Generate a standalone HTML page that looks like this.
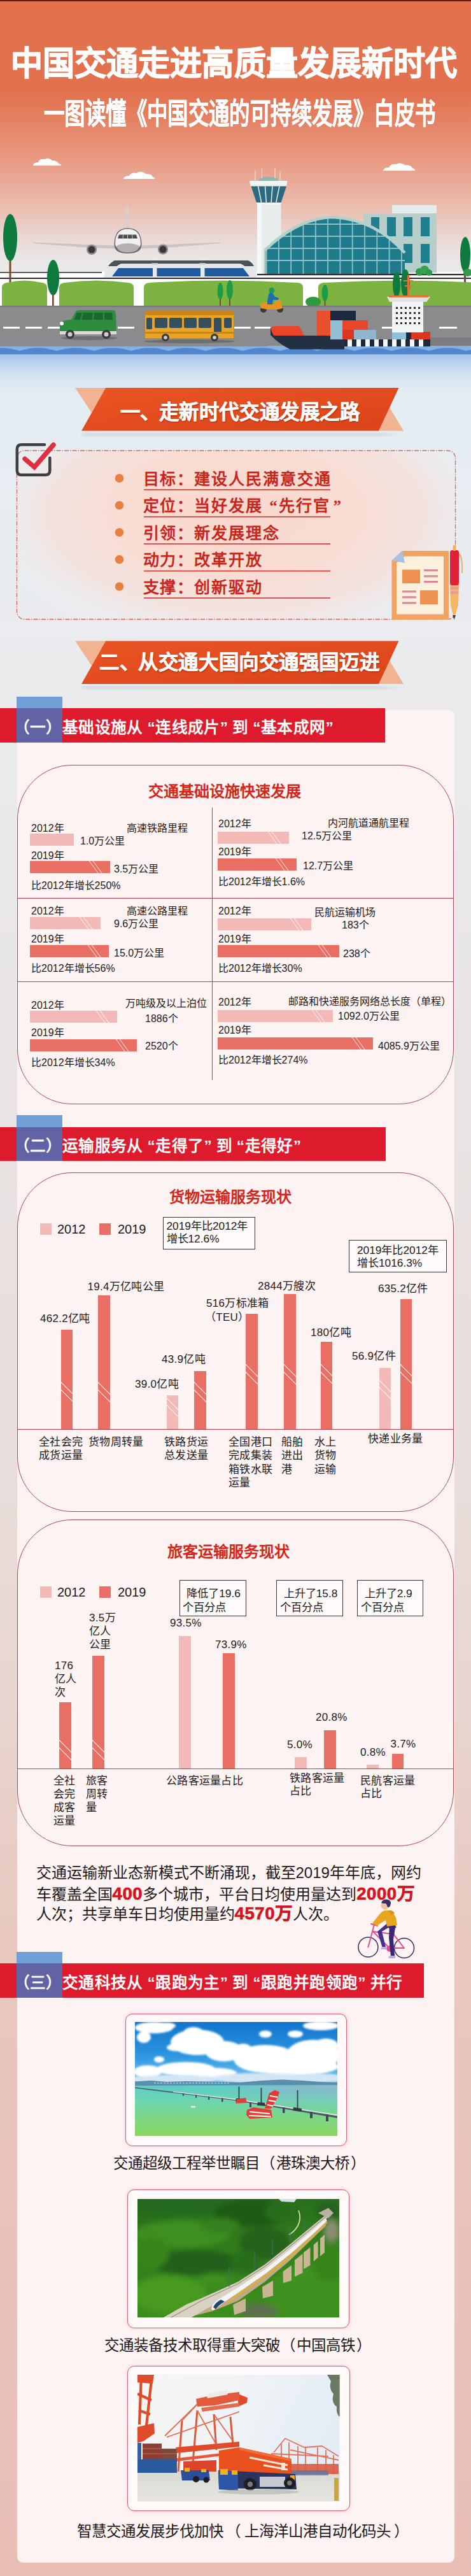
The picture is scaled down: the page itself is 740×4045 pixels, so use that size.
<!DOCTYPE html>
<html lang="zh-CN">
<head>
<meta charset="utf-8">
<title>中国交通走进高质量发展新时代</title>
<style>
html,body{margin:0;padding:0}
body{width:740px;height:4045px;position:relative;overflow:hidden;font-family:"Liberation Sans",sans-serif;color:#231f20;
background:linear-gradient(to bottom,#e6edf2 0px,#e6edf2 700px,#ebebed 1100px,#e9e3e3 1750px,#e8dedc 2300px,#e8d5cf 2680px,#e8c8c0 3050px,#e8beb5 4045px)}
.a{position:absolute;white-space:nowrap}
svg{position:absolute;left:0;top:0;display:block}
.t{position:absolute;white-space:nowrap;line-height:1}
.bt{color:#fff;font-weight:bold;-webkit-text-stroke:0.5px #fff;text-shadow:1px 2px 2px rgba(120,30,10,.45)}
.s1{left:224.5px;margin-top:1px;font-size:25px;font-weight:bold;color:#c8261c;letter-spacing:1.95px;font-family:"Liberation Serif",serif}
.card{background:#fdf3f3;border-radius:9px}
.st{color:#fff;font-weight:bold;font-size:24.6px;letter-spacing:0.4px}
.ql{margin-left:.27em}
.qr{margin-right:.27em}
.rb{border:1.2px solid #b24458;border-radius:86px;box-sizing:border-box}
.bxt{color:#d3271c;font-weight:bold;font-size:24px}
.c{font-size:16px;color:#1f1a1b}
.b12{background:#f3b9b6;overflow:hidden}
.b19{background:#e96f65;overflow:hidden}
.b12 i,.b19 i{position:absolute;top:-4px;width:1.3px;height:28px;background:#fff;transform:skewX(36deg);opacity:.9}
.lg{font-size:20px;color:#1f1a1b}
.nt{background:rgba(255,255,255,.55);border:1px solid #3a3435;box-sizing:border-box;font-size:17.3px;white-space:nowrap;color:#1f1a1b}
.d{font-size:17px;letter-spacing:.3px;color:#1f1a1b}
.vb{overflow:hidden}
.vb i{position:absolute;left:-6px;width:32px;height:1.3px;background:#fff;transform:rotate(45deg);opacity:.9}
.pg{font-size:24px;color:#1f1a1b}
.pg b{color:#d3151f;font-weight:bold;font-size:27.5px;line-height:24px;-webkit-text-stroke:0.7px #d3151f;letter-spacing:0.6px}
.fr{box-sizing:border-box;border:1.5px solid #cf5f7c;border-radius:11px;background:#fff9f9;box-shadow:0 0 5px rgba(235,150,170,.55)}
.cap{font-size:23.5px;color:#1f1a1b}
.pl{margin-left:1px;margin-right:2px}
.pr{margin-left:2px}

</style>
</head>
<body>
<svg width="740" height="620" viewBox="0 0 740 620">
<defs>
<linearGradient id="sky" x1="0" y1="0" x2="0" y2="1">
<stop offset="0" stop-color="#e2714e"/>
<stop offset="0.33" stop-color="#e2714e"/>
<stop offset="0.55" stop-color="#e8967e"/>
<stop offset="0.72" stop-color="#eab9aa"/>
<stop offset="0.85" stop-color="#e9d8d4"/>
<stop offset="0.92" stop-color="#e9e6e6"/>
<stop offset="1" stop-color="#ecebeb"/>
</linearGradient>
<linearGradient id="water" x1="0" y1="0" x2="0" y2="1">
<stop offset="0" stop-color="#a2c3ec"/>
<stop offset="0.3" stop-color="#c1d7f0"/>
<stop offset="0.65" stop-color="#dbe7f3"/>
<stop offset="1" stop-color="#e6edf2"/>
</linearGradient>
<clipPath id="domeclip"><path d="M416 432 L416 392 Q470 340 524 340 Q590 344 636 396 L636 432 Z"/></clipPath>
</defs>
<rect x="0" y="0" width="740" height="440" fill="url(#sky)"/>
<rect x="0" y="0" width="740" height="2" fill="#5a1d18"/>
<!-- clouds -->
<g fill="#fff">
<path d="M52 260 Q52 255 60 255 Q62 249 70 250 Q76 246 82 252 Q90 252 92 257 Q97 258 96 260 Z"/>
<path d="M194 281 Q195 276 203 276 Q206 270 214 272 Q222 267 229 273 Q238 273 240 278 Q244 279 243 281 Z"/>
<path d="M602 268 Q603 263 611 263 Q614 257 622 258 Q629 254 636 259 Q646 259 648 264 Q653 265 652 268 Z"/>
</g>
<!-- white ground band behind -->
<rect x="0" y="427" width="740" height="60" fill="#fdfdfd"/>
<!-- right office block -->
<rect x="616" y="322" width="70" height="14" fill="#e3ecea"/>
<rect x="571" y="335" width="115" height="93" fill="#b7cfca"/>
<g fill="#1f7f8f">
<rect x="583" y="341" width="13" height="30"/><rect x="608" y="341" width="14" height="30"/><rect x="634" y="341" width="14" height="30"/><rect x="661" y="341" width="14" height="30"/>
<rect x="634" y="383" width="14" height="30"/><rect x="661" y="383" width="14" height="30"/>
</g>
<!-- control tower -->
<rect x="404" y="318" width="37.500" height="112" fill="#e7eded"/>
<rect x="404" y="318" width="7" height="112" fill="#f5f8f8"/>
<path d="M392 284 L451.5 284 L450 292.5 L393.500 292.5 Z" fill="#eef3f3"/>
<path d="M394.5 292.5 L450 292.5 L441.500 318 L403 318 Z" fill="#2b6a80"/>
<g stroke="#dfeaea" stroke-width="1.6"><path d="M405.5 292.5 L410.700 318"/><path d="M416.500 292.5 L418.400 318"/><path d="M428 292.5 L426.100 318"/><path d="M439 292.5 L433.800 318"/></g>
<path d="M403 318 L441.5 318 L441.500 321 L403 321 Z" fill="#f2f6f6"/>
<path d="M406 284 Q407 278 422 277.500 Q437 278 438 284 Z" fill="#8fb5ac"/>
<g stroke="#e9efee" stroke-width="1"><path d="M401 268 L401 283"/><path d="M411.500 264 L411.500 280"/><path d="M432 264 L432 280"/><path d="M440 270 L440 283"/></g>
<!-- terminal dome -->
<g clip-path="url(#domeclip)">
<rect x="410" y="335" width="232" height="100" fill="#1f7b8c"/>
<g stroke="#8fc2c4" stroke-width="1.8" fill="none">
<path d="M410 352 H642 M410 371 H642 M410 390 H642 M410 409 H642"/>
<path d="M418.6 335 V435 M437.9 335 V435 M457.2 335 V435 M476.5 335 V435 M495.8 335 V435 M515.1 335 V435 M534.4 335 V435 M553.7 335 V435 M573.0 335 V435 M592.3 335 V435 M611.6 335 V435 M630.9 335 V435"/>
</g>
</g>
<path d="M416 393 Q470 341 524 341 Q590 345 636 397" fill="none" stroke="#b4d0ca" stroke-width="4.5"/>
<rect x="414.5" y="392" width="3" height="38" fill="#b4d0ca"/>
<!-- plane -->
<path d="M52 380.500 L186 386 L186 390.500 L140 389 L52 382 Z" fill="#cbc2c3"/>
<path d="M346 380.500 L214 386 L214 390.500 L260 389 L346 382 Z" fill="#cbc2c3"/>
<path d="M199 322 L201.200 322 L202 362 L198.200 362 Z" fill="#d6cfcf"/>
<circle cx="144" cy="392" r="8" fill="#8d878b"/><circle cx="144" cy="392" r="5.500" fill="#3a383d"/>
<circle cx="256" cy="391.500" r="8" fill="#8d878b"/><circle cx="256" cy="391.500" r="5.500" fill="#3a383d"/>
<path d="M179.500 384 Q179.500 358 200.500 358 Q222.500 358 222.500 384 Q222.500 398 200.500 398 Q179.500 398 179.500 384 Z" fill="#6f696d"/>
<path d="M181 383 Q181 359.500 200.500 359.500 Q221 359.500 221 383 Q221 392 200.500 392 Q181 392 181 383 Z" fill="#f1efef"/>
<path d="M183 386 Q200 378 219 386 Q217 396.500 200.500 396.500 Q185 396.500 183 386 Z" fill="#b4b0b3"/>
<path d="M187 368.500 L214 368.500 L216 374.500 L185 374.500 Z" fill="#4c4a51"/>
<path d="M193.500 368.500 L193 374.500 M200.500 368.500 L200.500 374.500 M207.500 368.500 L208 374.500" stroke="#efeded" stroke-width="0.800"/>
<!-- catenary posts -->
<rect x="240" y="406" width="6.500" height="31" fill="#eceef1"/><rect x="315" y="406" width="6.500" height="31" fill="#eceef1"/>
<!-- train -->
<path d="M163 436 Q165 420 178 409 L392 409 Q402 420 404 436 Z" fill="#e3e6ea"/>
<path d="M170 418 Q174 412 180 409 L390 409 Q396 412 399 418 L385 418 L378 414 L190 414 L183 418 Z" fill="#4d5158"/>
<path d="M176 434 L186 421 L382 421 L392 434 Z" fill="#1f5a9e"/>
<rect x="240" y="414" width="6.500" height="23" fill="#e6e8ec"/><rect x="315" y="414" width="6.500" height="23" fill="#e6e8ec"/><rect x="238.500" y="413" width="9.500" height="2.500" fill="#c9ccd2"/><rect x="313.500" y="413" width="9.500" height="2.500" fill="#c9ccd2"/>
<!-- deck lines -->
<rect x="0" y="436" width="740" height="2.2" fill="#2b2b2b"/>
<rect x="0" y="427" width="160" height="1.6" fill="#3a3a3a"/>
<rect x="404" y="430" width="336" height="2.2" fill="#2b2b2b"/>
<rect x="0" y="438" width="740" height="5" fill="#fff"/>
<!-- big left tree -->
<rect x="14.5" y="400" width="3" height="45" fill="#7a4a2a"/>
<ellipse cx="16" cy="373" rx="11" ry="37" fill="#0f7a3d"/>
<!-- right tree -->
<rect x="729" y="410" width="3" height="35" fill="#7a4a2a"/>
<ellipse cx="731" cy="400" rx="8" ry="28" fill="#0f7a3d"/>
<!-- hills -->
<g fill="#7db441">
<path d="M3 481 L3 451 Q3 445 11 444 Q38.5 437 66 444 Q74 445 74 451 L74 481 Z"/>
<path d="M93 481 L93 451 Q93 445 101 444 Q151.5 437 202 444 Q210 445 210 451 L210 481 Z"/>
<path d="M226 481 L226 451 Q226 445 234 444 Q351.0 437 468 444 Q476 445 476 451 L476 481 Z"/>
<path d="M500 481 L500 451 Q500 445 508 444 Q630.0 437 752 444 Q760 445 760 451 L760 481 Z"/>
</g>
<!-- small trees -->
<rect x="82" y="440" width="2.6" height="44" fill="#7a4a2a"/><ellipse cx="83.5" cy="436" rx="9.5" ry="28" fill="#0f7a3d"/>
<rect x="345" y="460" width="2" height="20" fill="#7a4a2a"/><ellipse cx="346" cy="457" rx="4.5" ry="13" fill="#1f9a45"/>
<rect x="360" y="458" width="2" height="22" fill="#7a4a2a"/><ellipse cx="361" cy="455" rx="5" ry="15" fill="#1f9a45"/>
<rect x="509.500" y="462" width="2" height="18" fill="#7a4a2a"/><ellipse cx="510.500" cy="460" rx="5" ry="13" fill="#1f9a45"/>
<ellipse cx="623" cy="447" rx="6" ry="20" fill="#0f7a3d"/><ellipse cx="637" cy="445" rx="7" ry="22" fill="#0f7a3d"/>
<ellipse cx="492" cy="474" rx="12" ry="8" fill="#2f9a3f"/><ellipse cx="659" cy="427" rx="6" ry="6" fill="#2f9a4a"/><ellipse cx="667" cy="424" rx="7" ry="7" fill="#37a34f"/><ellipse cx="674" cy="428" rx="5" ry="5" fill="#2f9a4a"/><ellipse cx="735" cy="428" rx="7" ry="6" fill="#2f9a4a"/>
<!-- road -->
<rect x="0" y="480" width="740" height="64" fill="#8b8b8d"/>
<rect x="0" y="480" width="740" height="2" fill="#77777a"/>
<g fill="#fff"><rect x="5" y="513" width="26" height="3"/><rect x="40" y="513" width="26" height="3"/><rect x="75" y="513" width="20" height="3"/><rect x="185" y="513" width="26" height="3"/><rect x="368" y="513" width="26" height="3"/><rect x="400" y="513" width="26" height="3"/><rect x="600" y="513" width="16" height="3"/><rect x="690" y="513" width="28" height="3"/></g>
<!-- green van -->
<ellipse cx="140" cy="531" rx="44" ry="3" fill="#6e6e70"/>
<path d="M94 524 L94 508 Q96 503 112 502 L119 489 Q121 487 126 487 L176 487 Q182 487 182 493 L183 524 Z" fill="#2d8d3d"/>
<path d="M116 502 L121 491 L176 491 L177 502 Z" fill="#1c6631"/>
<path d="M130 491 L127 502 M147 491 L146 502 M163 491 L163 502" stroke="#2d8d3d" stroke-width="2"/>
<rect x="94" y="520" width="89" height="5" fill="#d9dcd9"/>
<circle cx="110" cy="525" r="7" fill="#3b3b3d"/><circle cx="110" cy="525" r="3.5" fill="#cfcfcf"/>
<circle cx="167" cy="525" r="7" fill="#3b3b3d"/><circle cx="167" cy="525" r="3.500" fill="#cfcfcf"/>
<circle cx="97" cy="508" r="3" fill="#fff"/>
<!-- bus -->
<ellipse cx="298" cy="536" rx="72" ry="3" fill="#6e6e70"/>
<path d="M228 531 L228 494 Q228 488 236 488 L360 488 Q367 488 367 495 L367 531 Z" fill="#e9a426"/>
<rect x="228" y="488" width="139" height="7" rx="3" fill="#c98516"/>
<g fill="#35505c"><rect x="230" y="499" width="9" height="18" rx="2"/><rect x="243" y="499" width="20" height="16" rx="2"/><rect x="266" y="499" width="20" height="16" rx="2"/><rect x="289" y="499" width="20" height="16" rx="2"/><rect x="312" y="499" width="20" height="16" rx="2"/><rect x="336" y="499" width="12" height="24" rx="2"/><rect x="352" y="499" width="12" height="16" rx="2"/></g>
<rect x="228" y="521" width="139" height="3" fill="#c98516"/>
<circle cx="260" cy="530" r="6" fill="#3b3b3d"/><circle cx="260" cy="530" r="2.8" fill="#cfcfcf"/>
<circle cx="337" cy="530" r="6" fill="#3b3b3d"/><circle cx="337" cy="530" r="2.800" fill="#cfcfcf"/>
<!-- scooter -->
<circle cx="414" cy="486" r="5" fill="#3b3b3d"/><circle cx="440" cy="486" r="5" fill="#3b3b3d"/>
<path d="M409 480 Q410 474 420 475 L430 478 L436 470 L440 470 L444 484 L436 486 L420 486 L410 484 Z" fill="#e8921f"/>
<path d="M420 474 L422 462 Q424 458 428 460 L432 466 L438 468 L437 471 L429 471 L428 478 L420 478 Z" fill="#1f6fae"/>
<circle cx="427" cy="456" r="4.5" fill="#1f9a55"/>
<!-- pier right -->
<rect x="676" y="530" width="64" height="14" fill="#7d7d80"/>
<path d="M655 544 L655 505 L676 530 L676 544 Z" fill="#9a9a9d"/>
<!-- water -->
<rect x="0" y="555" width="740" height="65" fill="url(#water)"/>
<rect x="0" y="543" width="740" height="14" fill="#86b0e4"/>
<path d="M-28 551 Q1.25 541.5 30.50 551 Q59.75 541.5 89.00 551 Q118.25 541.5 147.50 551 Q176.75 541.5 206.00 551 Q235.25 541.5 264.50 551 Q293.75 541.5 323.00 551 Q352.25 541.5 381.50 551 Q410.75 541.5 440.00 551 Q469.25 541.5 498.50 551 Q527.75 541.5 557.00 551 Q586.25 541.5 615.50 551 Q644.75 541.5 674.00 551 Q703.25 541.5 732.50 551 Q761.75 541.5 791.00 551 L770 556 L-28 556 Z" fill="#4f86cc"/>
<rect x="0" y="540" width="420" height="4" fill="#8b8b8d"/>
<!-- ship -->
<path d="M425 514 L470 514 L476 527 L541 527 L541 548.500 L456 548.500 Q438 540 425 526 Z" fill="#232f42"/>
<path d="M425 514 L433 512 L470 512 L478 527 L430 527 Q426 520 425 514 Z" fill="#e8452a"/>
<rect x="498" y="488" width="21" height="39" fill="#e8502e"/>
<rect x="519" y="488" width="40" height="15" fill="#1d2a3e"/>
<rect x="519" y="503" width="19" height="30" fill="#8fc0d8"/>
<rect x="538" y="503" width="40" height="15" fill="#e8452a"/>
<rect x="538" y="518" width="18" height="15" fill="#d9381f"/>
<rect x="556" y="518" width="35" height="15" fill="#8fb6cc"/>
<rect x="541" y="533" width="135" height="11" fill="#1d2a3e"/>
<g fill="#f4f6f7"><rect x="546" y="533" width="7" height="11"/><rect x="560" y="533" width="7" height="11"/><rect x="574" y="533" width="7" height="11"/><rect x="588" y="533" width="7" height="11"/><rect x="602" y="533" width="7" height="11"/><rect x="616" y="533" width="7" height="11"/><rect x="630" y="533" width="7" height="11"/><rect x="644" y="533" width="7" height="11"/><rect x="658" y="533" width="7" height="11"/></g>
<rect x="616" y="521" width="22" height="12" fill="#8fc0d8"/><rect x="638" y="521" width="8" height="12" fill="#1d2a3e"/><rect x="646" y="521" width="30" height="12" fill="#d9381f"/>
<rect x="616" y="474" width="49" height="48" fill="#f3f4f4"/>
<path d="M608 466 L676 466 L670 474 L612 474 Z" fill="#dfe3e3"/>
<rect x="611" y="464" width="62" height="3" fill="#e8713a"/>
<rect x="640" y="432" width="3" height="34" fill="#e8713a"/><rect x="634" y="440" width="15" height="2" fill="#e8713a"/><rect x="636" y="448" width="11" height="2" fill="#e8713a"/>
<g fill="#2b2b2b"><rect x="622" y="482" width="3" height="3"/><rect x="629" y="482" width="3" height="3"/><rect x="636" y="482" width="3" height="3"/><rect x="643" y="482" width="3" height="3"/><rect x="650" y="482" width="3" height="3"/><rect x="657" y="482" width="3" height="3"/>
<rect x="622" y="490" width="3" height="3"/><rect x="629" y="490" width="3" height="3"/><rect x="636" y="490" width="3" height="3"/><rect x="643" y="490" width="3" height="3"/><rect x="650" y="490" width="3" height="3"/><rect x="657" y="490" width="3" height="3"/>
<rect x="622" y="498" width="3" height="3"/><rect x="629" y="498" width="3" height="3"/><rect x="636" y="498" width="3" height="3"/><rect x="643" y="498" width="3" height="3"/><rect x="650" y="498" width="3" height="3"/><rect x="657" y="498" width="3" height="3"/>
<rect x="622" y="506" width="3" height="3"/><rect x="629" y="506" width="3" height="3"/><rect x="636" y="506" width="3" height="3"/><rect x="643" y="506" width="3" height="3"/><rect x="650" y="506" width="3" height="3"/><rect x="657" y="506" width="3" height="3"/></g>
</svg>
<div class="t" id="h1" style="left:17px;top:74px;font-size:52px;font-weight:bold;color:#fff;transform-origin:0 0;transform:scaleX(0.963);-webkit-text-stroke:1.2px #fff">中国交通走进高质量发展新时代</div>
<div class="t" id="h2" style="left:68.5px;top:155px;font-size:46px;font-weight:bold;color:#fff;transform-origin:0 0;transform:scaleX(0.704);-webkit-text-stroke:0.5px #fff">一图读懂《中国交通的可持续发展》白皮书</div>

<svg width="740" height="1100" viewBox="0 0 740 1100" style="top:0">
<defs>
<linearGradient id="bn" x1="0" y1="0" x2="1" y2="1">
<stop offset="0" stop-color="#ea5523"/><stop offset="1" stop-color="#db431b"/>
</linearGradient>
<radialGradient id="box1" gradientUnits="userSpaceOnUse" cx="0" cy="0" r="1" gradientTransform="translate(371 805) scale(410 215)">
<stop offset="0" stop-color="#fad8ce"/><stop offset="0.45" stop-color="#f9dcd3"/><stop offset="0.72" stop-color="#f5e1dc" stop-opacity="0.85"/><stop offset="1" stop-color="#eef0f3" stop-opacity="0"/>
</radialGradient>
<filter id="sh" x="-5%" y="-10%" width="110%" height="140%"><feGaussianBlur stdDeviation="3"/></filter>
</defs>
<!-- banner 1 -->
<path d="M132 680 L600 680 L630 684 L128 684 Z" fill="#9aa4ad" opacity="0.45" filter="url(#sh)"/>
<path d="M118 609 L166 609 L144 648 Z" fill="#f1b391"/>
<path d="M595 676.5 L611 638 L634 676.500 Z" fill="#f1b391"/>
<path d="M166 609 L626.5 609 L595 676.5 L128 676.5 Z" fill="url(#bn)"/>
<!-- box 1 -->
<rect x="26.5" y="707.5" width="689" height="265" rx="12" fill="url(#box1)"/>
<rect x="26.5" y="707.5" width="689" height="265" rx="12" fill="none" stroke="#dc6557" stroke-width="1.3" stroke-dasharray="7 2 1.5 2"/>
<!-- check icon -->
<path d="M70 698.2 L33.800 698.2 Q26.8 698.2 26.8 705.2 L26.8 738.7 Q26.8 745.7 33.8 745.7 L71.300 745.7 Q78.3 745.7 78.3 738.7 L78.3 719" fill="none" stroke="#3f3f41" stroke-width="4.5" stroke-linecap="round"/>
<path d="M39 720.5 L54 733.5 L84 698.5" fill="none" stroke="#e0303f" stroke-width="7.5" stroke-linejoin="miter" stroke-linecap="round"/>
<!-- bullets -->
<g fill="#e8813f"><circle cx="187.5" cy="751" r="6.8"/><circle cx="187.5" cy="793.5" r="6.8"/><circle cx="187.5" cy="836" r="6.8"/><circle cx="187.5" cy="878.5" r="6.8"/><circle cx="187.5" cy="921" r="6.8"/></g>
<!-- underlines -->
<g fill="#cf2a20"><rect x="226" y="768.3" width="293" height="1.5"/><rect x="226" y="810.8" width="293" height="1.5"/><rect x="226" y="853.3" width="293" height="1.5"/><rect x="226" y="895.8" width="293" height="1.5"/><rect x="226" y="938.3" width="293" height="1.5"/></g>
<!-- doc icon -->
<g>
<path d="M615.5 880 L632 865 L705 865 L705 973 L615.5 973 Z" fill="#f1a363"/>
<path d="M623 884 L636 873.5 L697 873.5 L697 964.500 L623 964.5 Z" fill="#faf0dc"/>
<path d="M615.5 880 L632 865 L636 884 Z" fill="#a9c2e3"/>
<rect x="632" y="894.5" width="28" height="21.5" fill="#ee9050"/>
<rect x="660" y="927" width="28" height="22" fill="#ee9050"/>
<g fill="#db8a9c"><rect x="666" y="894" width="22" height="3.2"/><rect x="666" y="903.2" width="22" height="3.2"/><rect x="666" y="912" width="22" height="3.2"/><rect x="632" y="927.300" width="22" height="3.2"/><rect x="632" y="936.2" width="22" height="3.2"/><rect x="632" y="945.2" width="22" height="3.2"/></g>
<path d="M721 868 Q728 872 727 900 L725 900 Q726 876 721 872 Z" fill="#f0b060"/>
<path d="M707 918 L721 918 L720 950 L713.500 972 L708 950 Z" fill="#f3b765"/>
<rect x="707.5" y="921.5" width="13" height="4" fill="#e79a9a"/><rect x="707.800" y="928.5" width="12.5" height="4" fill="#e79a9a"/>
<rect x="707" y="864" width="14" height="55" rx="3.5" fill="#e0203a"/>
<rect x="711.500" y="856" width="5" height="9" rx="2" fill="#f0b060"/>
<path d="M711 966 L716 966 L713.5 973 Z" fill="#3a3a3a"/>
</g>
</svg>
<div class="t bt" style="left:188.5px;top:631.5px;font-size:31.5px;letter-spacing:-0.42px">一<span style="margin-right:-2px">、</span>走新时代交通发展之路</div>
<div class="t s1" style="top:738.5px">目标：建设人民满意交通</div>
<div class="t s1" style="top:781px">定位：当好发展<span style="margin-left:.4em">“</span>先行官<span style="margin-left:.2em">”</span></div>
<div class="t s1" style="top:823.5px">引领：新发展理念</div>
<div class="t s1" style="top:866px">动力：改革开放</div>
<div class="t s1" style="top:908.5px">支撑：创新驱动</div>

<svg width="740" height="1800" viewBox="0 0 740 1800">
<!-- banner 2 -->
<g transform="translate(0,397.5)">
<path d="M132 680 L600 680 L630 684 L128 684 Z" fill="#9aa4ad" opacity="0.45" filter="url(#sh)"/>
<path d="M118 609 L166 609 L144 648 Z" fill="#f1b391"/>
<path d="M595 676.5 L611 638 L634 676.500 Z" fill="#f1b391"/>
<path d="M166 609 L626.5 609 L595 676.5 L128 676.5 Z" fill="url(#bn)"/>
</g>
</svg>
<div class="t bt" style="left:156px;top:1025px;font-size:31.5px;letter-spacing:-0.42px">二<span style="margin-right:-2px">、</span>从交通大国向交通强国迈进</div>
<div class="a card" style="left:27px;top:1114.5px;width:687px;height:2909px"></div>
<div class="a" style="left:25.5px;top:1093.8px;width:72.5px;height:72px;background:#71a0d6"></div><div class="a" style="left:0;top:1112.3px;width:604.7px;height:53.5px;background:#de1a2d"></div><div class="a" style="left:25.5px;top:1112.3px;width:72.5px;height:53.5px;background:#6263a4"></div><div class="t st" style="left:21.7px;top:1130.8px">（一）基础设施从<span class="ql">“</span>连线成片<span class="qr">”</span>到<span class="ql">“</span>基本成网<span class="qr">”</span></div>
<div class="a rb" style="left:26.8px;top:1201px;width:686px;height:533px"></div>
<div class="t bxt" style="left:233px;top:1230.5px">交通基础设施快速发展</div>
<div class="a" style="left:28px;top:1410px;width:685px;height:1.2px;background:#c23a48"></div>
<div class="a" style="left:28px;top:1541px;width:685px;height:1.2px;background:#c23a48"></div>
<div class="a" style="left:333px;top:1268px;width:1.2px;height:428px;background:#c23a48"></div>
<div class="t c" style="left:49px;top:1292.5px">2012年</div>
<div class="t c" style="left:199px;top:1292.5px">高速铁路里程</div>
<div class="a b12" style="left:47px;top:1309px;width:69px;height:19px"></div>
<div class="t c" style="left:126px;top:1312.5px">1.0万公里</div>
<div class="t c" style="left:49px;top:1335.5px">2019年</div>
<div class="a b19" style="left:47px;top:1352px;width:126px;height:19px"><i style="left:99.6px"></i><i style="left:106.3px"></i></div>
<div class="t c" style="left:179px;top:1356.5px">3.5万公里</div>
<div class="t c" style="left:49px;top:1382.5px">比2012年增长250%</div>
<div class="t c" style="left:49px;top:1422.5px">2012年</div>
<div class="t c" style="left:199px;top:1422.5px">高速公路里程</div>
<div class="a b12" style="left:47px;top:1439.5px;width:111px;height:19px"><i style="left:84.6px"></i><i style="left:91.3px"></i></div>
<div class="t c" style="left:179px;top:1442.5px">9.6万公里</div>
<div class="t c" style="left:49px;top:1466.5px">2019年</div>
<div class="a b19" style="left:47px;top:1484px;width:124px;height:19px"><i style="left:97.6px"></i><i style="left:104.3px"></i></div>
<div class="t c" style="left:179px;top:1488.5px">15.0万公里</div>
<div class="t c" style="left:49px;top:1513.0px">比2012年增长56%</div>
<div class="t c" style="left:49px;top:1570.5px">2012年</div>
<div class="t c" style="left:197px;top:1567.5px">万吨级及以上泊位</div>
<div class="a b12" style="left:47px;top:1587px;width:137px;height:19px"><i style="left:110.6px"></i><i style="left:117.3px"></i></div>
<div class="t c" style="left:228px;top:1591.5px">1886个</div>
<div class="t c" style="left:49px;top:1613.5px">2019年</div>
<div class="a b19" style="left:47px;top:1632px;width:168px;height:19px"><i style="left:141.6px"></i><i style="left:148.3px"></i></div>
<div class="t c" style="left:228px;top:1634.5px">2520个</div>
<div class="t c" style="left:49px;top:1660.5px">比2012年增长34%</div>
<div class="t c" style="left:343px;top:1285.5px">2012年</div>
<div class="t c" style="left:515px;top:1285.0px">内河航道通航里程</div>
<div class="a b12" style="left:342px;top:1306px;width:112px;height:19px"><i style="left:85.6px"></i><i style="left:92.3px"></i></div>
<div class="t c" style="left:474px;top:1305.0px">12.5万公里</div>
<div class="t c" style="left:343px;top:1329.5px">2019年</div>
<div class="a b19" style="left:342px;top:1347.5px;width:124px;height:19px"><i style="left:97.6px"></i><i style="left:104.3px"></i></div>
<div class="t c" style="left:476px;top:1352.0px">12.7万公里</div>
<div class="t c" style="left:343px;top:1377.0px">比2012年增长1.6%</div>
<div class="t c" style="left:343px;top:1422.5px">2012年</div>
<div class="t c" style="left:494px;top:1424.5px">民航运输机场</div>
<div class="a b12" style="left:342px;top:1442px;width:147px;height:19px"><i style="left:120.6px"></i><i style="left:127.3px"></i></div>
<div class="t c" style="left:537px;top:1444.5px">183个</div>
<div class="t c" style="left:343px;top:1466.5px">2019年</div>
<div class="a b19" style="left:342px;top:1483.5px;width:191px;height:19px"><i style="left:164.6px"></i><i style="left:171.3px"></i></div>
<div class="t c" style="left:539px;top:1489.5px">238个</div>
<div class="t c" style="left:343px;top:1513.0px">比2012年增长30%</div>
<div class="t c" style="left:343px;top:1565.5px">2012年</div>
<div class="t c" style="left:452.5px;top:1564.5px">邮路和快递服务网络总长度（单程）</div>
<div class="a b12" style="left:342px;top:1586px;width:181px;height:19px"><i style="left:154.6px"></i><i style="left:161.3px"></i></div>
<div class="t c" style="left:531px;top:1587.5px">1092.0万公里</div>
<div class="t c" style="left:343px;top:1609.5px">2019年</div>
<div class="a b19" style="left:342px;top:1629px;width:244px;height:19px"><i style="left:217.6px"></i><i style="left:224.3px"></i></div>
<div class="t c" style="left:594px;top:1634.5px">4085.9万公里</div>
<div class="t c" style="left:343px;top:1657.0px">比2012年增长274%</div>

<div class="a" style="left:25.5px;top:1751.0px;width:72.5px;height:72px;background:#71a0d6"></div><div class="a" style="left:0;top:1769.5px;width:606px;height:53.5px;background:#de1a2d"></div><div class="a" style="left:25.5px;top:1769.5px;width:72.5px;height:53.5px;background:#6263a4"></div><div class="t st" style="left:21.7px;top:1788.0px">（二）运输服务从<span class="ql">“</span>走得了<span class="qr">”</span>到<span class="ql">“</span>走得好<span class="qr">”</span></div>
<div class="a rb" style="left:26.8px;top:1841px;width:686px;height:533px"></div>
<div class="t bxt" style="left:266px;top:1867.5px">货物运输服务现状</div>
<div class="a" style="left:63px;top:1921px;width:18px;height:18px;background:#f3b9b6"></div><div class="t lg" style="left:90px;top:1920px">2012</div><div class="a" style="left:155.5px;top:1921px;width:18px;height:18px;background:#e96f65"></div><div class="t lg" style="left:185px;top:1920px">2019</div>
<div class="a nt" style="left:256px;top:1911px;width:144.5px;height:51px;padding-top:2.8px;padding-left:4.5px;line-height:20px;text-indent:0px">2019年比2012年<br>增长12.6%</div>
<div class="a nt" style="left:548.4px;top:1947.2px;width:154px;height:51px;padding-top:4.7px;padding-left:11.6px;line-height:20px;text-indent:0px">2019年比2012年<br>增长1016.3%</div>
<div class="a" style="left:28px;top:2243.7px;width:684px;height:1.2px;background:#c23a48"></div>
<div class="a b19 vb" style="left:95.5px;top:2088px;width:18.5px;height:155.7px"><i style="top:91.7px"></i><i style="top:104.2px"></i></div>
<div class="t d" style="left:63px;top:2061.5px">462.2亿吨</div>
<div class="a b19 vb" style="left:154px;top:2033.5px;width:19px;height:210.2px"><i style="top:146.2px"></i><i style="top:158.7px"></i></div>
<div class="t d" style="left:137.5px;top:2011.5px">19.4万亿吨公里</div>
<div class="a b12 vb" style="left:261.5px;top:2191px;width:18px;height:52.7px"><i style="top:13.7px"></i><i style="top:24.7px"></i></div>
<div class="t d" style="left:212px;top:2165.1px">39.0亿吨</div>
<div class="a b19 vb" style="left:305px;top:2153px;width:18.5px;height:90.7px"><i style="top:26.7px"></i><i style="top:39.2px"></i></div>
<div class="t d" style="left:254px;top:2125.5px">43.9亿吨</div>
<div class="a b19 vb" style="left:386px;top:2063px;width:19px;height:180.7px"><i style="top:88.7px"></i><i style="top:101.2px"></i></div>
<div class="t d" style="left:324px;top:2037.5px">516万标准箱</div>
<div class="t d" style="left:322px;top:2059.5px">（TEU）</div>
<div class="a b19 vb" style="left:446px;top:2032px;width:18.5px;height:211.7px"><i style="top:119.7px"></i><i style="top:132.2px"></i></div>
<div class="t d" style="left:405px;top:2010.5px">2844万艘次</div>
<div class="a b19 vb" style="left:503.5px;top:2107px;width:18.5px;height:136.7px"><i style="top:44.7px"></i><i style="top:57.2px"></i></div>
<div class="t d" style="left:488px;top:2083.5px">180亿吨</div>
<div class="a b12 vb" style="left:596px;top:2147.5px;width:18px;height:96.2px"><i style="top:29.2px"></i><i style="top:40.7px"></i></div>
<div class="t d" style="left:553px;top:2120.5px">56.9亿件</div>
<div class="a b19 vb" style="left:629px;top:2040px;width:18px;height:203.7px"><i style="top:111.7px"></i><i style="top:124.2px"></i></div>
<div class="t d" style="left:594px;top:2014.5px">635.2亿件</div>
<div class="t d" style="left:61px;top:2255.5px">全社会完</div><div class="t d" style="left:61px;top:2277.0px">成货运量</div>
<div class="t d" style="left:139px;top:2255.5px">货物周转量</div>
<div class="t d" style="left:258px;top:2255.5px">铁路货运</div><div class="t d" style="left:258px;top:2277.0px">总发送量</div>
<div class="t d" style="left:359px;top:2255.5px">全国港口</div><div class="t d" style="left:359px;top:2277.0px">完成集装</div><div class="t d" style="left:359px;top:2298.5px">箱铁水联</div><div class="t d" style="left:359px;top:2320.0px">运量</div>
<div class="t d" style="left:442px;top:2255.5px">船舶</div><div class="t d" style="left:442px;top:2277.0px">进出</div><div class="t d" style="left:442px;top:2298.5px">港</div>
<div class="t d" style="left:494px;top:2255.5px">水上</div><div class="t d" style="left:494px;top:2277.0px">货物</div><div class="t d" style="left:494px;top:2298.5px">运输</div>
<div class="t d" style="left:578px;top:2250.5px">快递业务量</div>
<div class="a rb" style="left:26.8px;top:2386px;width:686px;height:513px"></div>
<div class="t bxt" style="left:263px;top:2424.5px">旅客运输服务现状</div>
<div class="a" style="left:63px;top:2491px;width:18px;height:18px;background:#f3b9b6"></div><div class="t lg" style="left:90px;top:2490px">2012</div><div class="a" style="left:155.5px;top:2491px;width:18px;height:18px;background:#e96f65"></div><div class="t lg" style="left:185px;top:2490px">2019</div>
<div class="a nt" style="left:281.5px;top:2481px;width:105px;height:56.6px;padding-top:10.4px;padding-left:4.7px;line-height:21.7px;text-indent:0px"><span style="margin-left:6px"></span>降低了19.6<br>个百分点</div>
<div class="a nt" style="left:434px;top:2481px;width:105px;height:56.6px;padding-top:10.4px;padding-left:4.7px;line-height:21.7px;text-indent:0px"><span style="margin-left:6px"></span>上升了15.8<br>个百分点</div>
<div class="a nt" style="left:561px;top:2481px;width:104px;height:56.6px;padding-top:10.4px;padding-left:4.7px;line-height:21.7px;text-indent:0px"><span style="margin-left:6px"></span>上升了2.9<br>个百分点</div>
<div class="a" style="left:28px;top:2777px;width:684px;height:1.2px;background:#c23a48"></div>
<div class="a b19 vb" style="left:93px;top:2673px;width:18.5px;height:104px"><i style="top:68.5px"></i><i style="top:80.5px"></i></div>
<div class="t d" style="left:86px;top:2607px">176</div><div class="t d" style="left:86px;top:2628px">亿人</div><div class="t d" style="left:86px;top:2649px">次</div>
<div class="a b19 vb" style="left:145px;top:2600px;width:18.5px;height:177px"><i style="top:141.5px"></i><i style="top:153.5px"></i></div>
<div class="t d" style="left:140px;top:2532px">3.5万</div><div class="t d" style="left:140px;top:2553px">亿人</div><div class="t d" style="left:140px;top:2574px">公里</div>
<div class="a b12 vb" style="left:281px;top:2568.5px;width:19px;height:208.5px"></div>
<div class="t d" style="left:267px;top:2540px">93.5%</div>
<div class="a b19 vb" style="left:350px;top:2596px;width:19px;height:181px"></div>
<div class="t d" style="left:338px;top:2574px">73.9%</div>
<div class="a b12 vb" style="left:463px;top:2759px;width:18.5px;height:18px"></div>
<div class="t d" style="left:451px;top:2731px">5.0%</div>
<div class="a b19 vb" style="left:509px;top:2716.6px;width:18.5px;height:60.4px"></div>
<div class="t d" style="left:496px;top:2688px">20.8%</div>
<div class="a b12 vb" style="left:576px;top:2771px;width:18.5px;height:6px"></div>
<div class="t d" style="left:566px;top:2743px">0.8%</div>
<div class="a b19 vb" style="left:616px;top:2753.5px;width:18px;height:23.5px"></div>
<div class="t d" style="left:613.5px;top:2730px">3.7%</div>
<div class="t d" style="left:84px;top:2788px">全社</div><div class="t d" style="left:84px;top:2809px">会完</div><div class="t d" style="left:84px;top:2830px">成客</div><div class="t d" style="left:84px;top:2851px">运量</div>
<div class="t d" style="left:135px;top:2788px">旅客</div><div class="t d" style="left:135px;top:2809px">周转</div><div class="t d" style="left:135px;top:2830px">量</div>
<div class="t d" style="left:261px;top:2788.0px">公路客运量占比</div>
<div class="t d" style="left:455px;top:2784.0px">铁路客运量</div><div class="t d" style="left:455px;top:2803.5px">占比</div>
<div class="t d" style="left:566px;top:2788.0px">民航客运量</div><div class="t d" style="left:566px;top:2807.5px">占比</div>
<div class="t pg" style="left:56.5px;top:2929px">交通运输新业态新模式不断涌现，截至2019年年底，网约</div>
<div class="t pg" style="left:56.5px;top:2962px">车覆盖全国<b>400</b>多个城市，平台日均使用量达到<b>2000万</b></div>
<div class="t pg" style="left:56.5px;top:2993px">人次；共享单车日均使用量约<b>4570万</b>人次。</div>

<div class="a" style="left:25.5px;top:3064.8px;width:72.5px;height:72px;background:#71a0d6"></div><div class="a" style="left:0;top:3083.3px;width:666px;height:53.5px;background:#de1a2d"></div><div class="a" style="left:25.5px;top:3083.3px;width:72.5px;height:53.5px;background:#6263a4"></div><div class="t st" style="left:21.7px;top:3101.8px">（三）交通科技从<span class="ql">“</span>跟跑为主<span class="qr">”</span>到<span class="ql">“</span>跟跑并跑领跑<span class="qr">”</span>并行</div>
<svg width="120" height="110" viewBox="0 0 120 110" style="left:550px;top:2975px">
<g fill="none" stroke="#3a2a60" stroke-width="1.5"><circle cx="28.400" cy="82.6" r="15.5"/><circle cx="85" cy="84" r="15.5"/></g>
<g fill="none" stroke="#df4f8a" stroke-width="2" stroke-linecap="round" stroke-linejoin="round">
<path d="M38 47 L28.400 82.6"/><path d="M33 46 L43 49"/><path d="M36 58 L68 62 L85 84 L62 84 L36 58"/><path d="M68 62 L62 84"/><path d="M66 52 L69 62"/>
</g>
<ellipse cx="63" cy="85" rx="6" ry="5" fill="#df4f8a"/>
<path d="M60 51 L73 50 L71 53 L61 53 Z" fill="#3a2a60"/>
<!-- legs -->
<path d="M70 46 L50 58 L56 82 L51 84 L43 58 L62 42 Z" fill="#46308e"/>
<path d="M72 46 L68 70 L70 96 L64 97 L61 68 L62 44 Z" fill="#3a2777"/>
<path d="M50 82 L58 82 L58 86 L48 86 Z" fill="#b8b0d8"/><path d="M62 96 L71 96 L71 100 L60 100 Z" fill="#b8b0d8"/>
<!-- torso -->
<path d="M47 30 Q52 24 60 25 Q68 27 72 36 L74 48 L58 50 L56 40 L42 49 L35 45 Z" fill="#e8a61f"/>
<path d="M60 25 Q68 24 70 30 L64 32 Z" fill="#d6921a"/>
<!-- head -->
<circle cx="55" cy="17" r="6.5" fill="#f2c0a0"/>
<path d="M49 13 Q52 6 60 8 Q66 10 63 18 Q60 22 58 18 Q58 13 52 14 Z" fill="#3a2a70"/>
</svg>
<div class="a fr" style="left:197px;top:3162px;width:347.70000000000005px;height:207.80000000000018px"></div>
<div class="a fr" style="left:200px;top:3438px;width:349px;height:218.4000000000001px"></div>
<div class="a fr" style="left:200px;top:3715px;width:349.79999999999995px;height:227.80000000000018px"></div>
<svg width="318" height="179" viewBox="0 0 318 179" style="left:211.8px;top:3175px">
<defs>
<linearGradient id="p1s" x1="0" y1="0" x2="0" y2="1"><stop offset="0" stop-color="#1173cc"/><stop offset="0.55" stop-color="#2e98e0"/><stop offset="1" stop-color="#86ccf0"/></linearGradient>
<linearGradient id="p1w" x1="0" y1="0" x2="0" y2="1"><stop offset="0" stop-color="#5ccacb"/><stop offset="0.3" stop-color="#6bd6b2"/><stop offset="0.65" stop-color="#7ed685"/><stop offset="1" stop-color="#8ad661"/></linearGradient>
<linearGradient id="p1r" x1="0" y1="0" x2="1" y2="0"><stop offset="0" stop-color="#94b6cd" stop-opacity="0"/><stop offset="0.5" stop-color="#94b6cd" stop-opacity="0.75"/><stop offset="1" stop-color="#94b6cd" stop-opacity="0.95"/></linearGradient>
<linearGradient id="p1rv" x1="0" y1="0" x2="0" y2="1"><stop offset="0" stop-color="#fff" stop-opacity="1"/><stop offset="1" stop-color="#fff" stop-opacity="0"/></linearGradient>
<mask id="p1m"><rect x="140" y="97" width="178" height="40" fill="url(#p1rv)"/></mask>
<filter id="cb" x="-10%" y="-10%" width="120%" height="120%"><feGaussianBlur stdDeviation="1.8"/></filter>
</defs>
<rect width="318" height="100" fill="url(#p1s)"/>
<g fill="#fff" filter="url(#cb)">
<ellipse cx="30" cy="9" rx="30" ry="9"/><ellipse cx="14" cy="24" rx="11" ry="9"/><ellipse cx="50" cy="6" rx="14" ry="5"/>
<ellipse cx="98" cy="32" rx="42" ry="20"/><ellipse cx="92" cy="17" rx="16" ry="9"/><ellipse cx="140" cy="46" rx="30" ry="16"/><ellipse cx="66" cy="40" rx="16" ry="6"/>
<ellipse cx="38" cy="59" rx="8" ry="5"/>
<ellipse cx="80" cy="74" rx="46" ry="11"/><ellipse cx="20" cy="78" rx="22" ry="10"/><ellipse cx="120" cy="80" rx="40" ry="8"/>
<ellipse cx="205" cy="58" rx="50" ry="22"/><ellipse cx="280" cy="52" rx="42" ry="24"/><ellipse cx="170" cy="44" rx="14" ry="10"/><ellipse cx="250" cy="70" rx="70" ry="14"/><ellipse cx="300" cy="38" rx="20" ry="12"/>
<ellipse cx="205" cy="19" rx="10" ry="5.500"/><ellipse cx="252" cy="19" rx="12" ry="5.500"/><ellipse cx="292" cy="6" rx="28" ry="7"/>
</g>
<g fill="#dfeaf5" filter="url(#cb)" opacity="0.9"><ellipse cx="60" cy="90" rx="70" ry="7"/><ellipse cx="200" cy="88" rx="80" ry="8"/><ellipse cx="290" cy="88" rx="40" ry="7"/></g>
<rect y="97" width="318" height="82" fill="url(#p1w)"/>
<rect x="140" y="97" width="178" height="40" fill="url(#p1r)" mask="url(#p1m)"/>
<path d="M0 98 L0 93.500 L25 92 L50 94 L80 93 L110 93.500 L140 94 L165 95 L200 92 L230 90.500 L262 92 L290 94 L318 95 L318 99 L0 100 Z" fill="#588fad"/>
<path d="M30 96 H150" stroke="#cfe0ea" stroke-width="1.2" stroke-dasharray="3 2"/>
<path d="M0 102.5 L158 121 L318 146.500 L318 151 L158 123.500 L0 104 Z" fill="#4d5a66"/>
<path d="M60 109 L158 120.500 L318 145.500 L318 147.500 L158 122.200 L60 110.200 Z" fill="#dfe6ea"/>
<g fill="#3f4a55"><rect x="75" y="112" width="2" height="4"/><rect x="95" y="114.500" width="2" height="4.500"/><rect x="115" y="117" width="2.200" height="5"/><rect x="136" y="119.500" width="2.500" height="6"/><rect x="180" y="126" width="3" height="8"/><rect x="232" y="134" width="3.500" height="9"/><rect x="275" y="141" width="4" height="10"/><rect x="300" y="145" width="4" height="11"/></g>
<g stroke="#34404c" stroke-width="1.8"><path d="M163.500 101.500 L163.500 123"/><path d="M198.500 103.500 L198.500 130"/><path d="M255.500 107 L255.500 138"/></g>
<path d="M159 120 L168 120 L169 125 L158 125 Z" fill="#2f3a45"/><path d="M193 126 L204 127 L205 132 L192 131 Z" fill="#2f3a45"/><path d="M249 134 L262 136 L262 141 L248 139 Z" fill="#2f3a45"/>
<path d="M211 112 L220 107 L227 110 L224 119 L214 136 L204 136 L208 122 Z" fill="#e63a36"/>
<path d="M212 116 L224 118 M210 123 L221 125 M208 130 L217 132" stroke="#fff" stroke-width="2.2"/>
<path d="M176 138 L186 134 L214 138 L216 150 L180 152 L175 146 Z" fill="#e23c37"/>
<path d="M180 141 L212 144 M179 147 L214 148.500" stroke="#fff" stroke-width="1.8"/>
<path d="M160 121 L174 119 L176 127 L158 128 Z" fill="#d9413a"/>
<rect x="88" y="132" width="7" height="2.5" fill="#f1f1f1"/>
</svg>
<svg width="317" height="186.400" viewBox="0 0 317 186.4" style="left:216px;top:3453px">
<defs>
<linearGradient id="p2g" x1="0" y1="0" x2="0.200" y2="1"><stop offset="0" stop-color="#2a7220"/><stop offset="0.5" stop-color="#3a8c1f"/><stop offset="1" stop-color="#46a01f"/></linearGradient>
<filter id="gb" x="-10%" y="-10%" width="120%" height="120%"><feGaussianBlur stdDeviation="4"/></filter>
<filter id="gb2" x="-10%" y="-10%" width="120%" height="120%"><feGaussianBlur stdDeviation="1.5"/></filter>
</defs>
<rect width="317" height="186.4" fill="url(#p2g)"/>
<g filter="url(#gb)">
<ellipse cx="60" cy="12" rx="70" ry="14" fill="#2b7420"/>
<ellipse cx="180" cy="22" rx="60" ry="22" fill="#236419"/>
<ellipse cx="70" cy="55" rx="75" ry="22" fill="#47a221"/>
<ellipse cx="130" cy="42" rx="30" ry="12" fill="#3c9220"/>
<ellipse cx="90" cy="100" rx="70" ry="20" fill="#26681a"/>
<ellipse cx="20" cy="85" rx="30" ry="25" fill="#3f961f"/>
<ellipse cx="50" cy="150" rx="60" ry="30" fill="#52ae22"/>
<ellipse cx="120" cy="128" rx="25" ry="12" fill="#48a321"/>
<ellipse cx="200" cy="70" rx="40" ry="26" fill="#2a6d1c"/>
<ellipse cx="170" cy="100" rx="25" ry="18" fill="#2f7a1d"/>
<ellipse cx="265" cy="150" rx="60" ry="45" fill="#4aa422"/>
<ellipse cx="300" cy="100" rx="25" ry="30" fill="#3f961f"/>
<ellipse cx="230" cy="20" rx="30" ry="16" fill="#2f7a1f"/>
<ellipse cx="300" cy="18" rx="22" ry="14" fill="#2b6d22"/>
<ellipse cx="305" cy="50" rx="12" ry="18" fill="#a59f86"/>
<ellipse cx="190" cy="176" rx="30" ry="12" fill="#6f7a5c"/>
</g>
<rect width="317" height="186.4" fill="#0c3310" opacity="0.17"/>
<path d="M222 0 L250 0 L246 5 L226 4 Z" fill="#cfdfe4"/>
<path d="M253 18 Q258 30 252 42 Q246 52 238 56" fill="none" stroke="#d9d4b4" stroke-width="1.800"/>
<!-- pillars -->
<g fill="#c9b494"><path d="M196 138 L213 128 L213 152 L197 156 Z"/><path d="M228.500 114 L242 104 L242 128 L229 132 Z"/><path d="M247 96 L259.500 86 L259.500 116 L247 122 Z"/><path d="M261 84 L271.500 76 L271.500 104 L261 110 Z"/><path d="M276.700 72 L283.600 66 L283.600 92 L276.700 98 Z"/><path d="M287 62 L294 56 L294 84 L287 90 Z"/><path d="M150 166 L170 156 L170 176 L152 182 Z"/></g>
<!-- deck side -->
<path d="M77 186.400 L118 176 L158 160 L200 130 L240 96 L275 62 L296 42 L297 27 L275 45 L240 76 L200 108 L158 136 L100 166 L60 186.400 Z" fill="#bfa988"/>
<!-- deck top -->
<path d="M40 186.400 L77 165.600 L100 156 L158 130 L200 103 L240 71 L275 42 L296 25 L300 28 L278 48 L243 80 L203 112 L160 142 L120 166 L84 186.400 Z" fill="#d8d2c4"/>
<path d="M52 186.400 L100 160 L158 133 L200 106 L240 74 L275 45 L297 27" fill="none" stroke="#9b8f7c" stroke-width="1.2"/>
<!-- train -->
<path d="M116 172 Q117 164 128 157 L158 139 L200 111 L240 79 L275 49 L295 31 L298 34 L278 53 L243 84 L203 116 L160 146 L136 162 Q124 172 118 175 Z" fill="#f4f5f2"/>
<path d="M140 162 L160 147.500 L203 118 L243 86 L278 55 L298 35 L298.500 37 L279 57 L244 88.500 L204 120.500 L161 150 L142 163.500 Z" fill="#ddb02e"/>
<path d="M119 170 Q122 163 131 158 L137 161 Q127 167 123 173 Z" fill="#24466e"/>
<g stroke="#4d6a7c" stroke-width="1.100"><path d="M144 107 L144 138"/><path d="M184 82 L184 110"/><path d="M212 64 L212 88"/><path d="M240 46 L240 66"/><path d="M262 32 L262 48"/></g>
<path d="M284 22 L300 14 L308 22 L300 30 Z" fill="#b9b2a2"/>
</svg>
<svg width="317.700" height="199.100" viewBox="0 0 317.7 199.1" style="left:216px;top:3728.9px">
<defs><linearGradient id="p3s" x1="0" y1="0" x2="1" y2="0.300"><stop offset="0" stop-color="#f6f6f3"/><stop offset="0.45" stop-color="#f1f4f5"/><stop offset="1" stop-color="#e4edf5"/></linearGradient>
<linearGradient id="p3g" x1="0" y1="0" x2="0" y2="1"><stop offset="0" stop-color="#d9d9d4"/><stop offset="1" stop-color="#e6e6e1"/></linearGradient></defs>
<rect width="317.7" height="199.1" fill="url(#p3s)"/>
<rect y="150" width="317.7" height="49.1" fill="url(#p3g)"/>
<!-- far right cranes -->
<g fill="none" stroke="#e2664c" stroke-width="1.8" opacity="0.9"><path d="M214 122 L232 100 L262 114 L290 112 L316 128"/><path d="M226 108 L226 150"/><path d="M238 106 L238 150"/><path d="M252 112 L252 152"/><path d="M264 114 L264 152"/><path d="M283 114 L283 154"/><path d="M296 118 L296 156"/><path d="M210 124 L300 128"/><path d="M240 118 L316 134"/><path d="M308 126 L308 156"/></g>
<rect x="226" y="140" width="90" height="16" fill="#dc5a42" opacity="0.9"/>
<rect x="240" y="150" width="60" height="8" fill="#5a78a8" opacity="0.8"/>
<!-- left crane -->
<g fill="none" stroke="#df4a2a" stroke-width="4.2"><path d="M6 0 L3 78"/><path d="M22 8 L14 80"/><path d="M0 30 L22 40"/><path d="M2 56 L20 62"/></g>
<path d="M0 0 L26 0 L24 14 L0 12 Z" fill="#df4a2a"/>
<path d="M0 82 L26 76 L27 92 L10 104 L0 107 Z" fill="#df4a2a"/>
<path d="M158 30 L173 36 L172 44 L158 50 Z" fill="#df4a2a"/>
<!-- ship -->
<rect x="0" y="133" width="62" height="21" fill="#2a5a9c"/>
<rect x="0" y="107" width="6" height="26" fill="#2f62a6"/>
<rect x="8" y="108" width="30" height="25" fill="#8e3f33"/><rect x="38" y="116" width="24" height="17" fill="#7e4a3c"/>
<path d="M8 116 H38 M8 124 H62" stroke="#b4705e" stroke-width="1.2"/>
<!-- mid crane -->
<g fill="none" stroke="#e2553a" stroke-width="3" stroke-linejoin="round"><path d="M70 72 L64 152"/><path d="M94 56 L86 150"/><path d="M120 62 L124 118"/><path d="M146 66 L150 110"/></g>
<g fill="none" stroke="#e66a4e" stroke-width="1.800"><path d="M43 96 L100 40 L160 34"/><path d="M46 98 L160 58"/><path d="M94 56 L124 110"/><path d="M120 62 L150 104"/><path d="M70 72 L100 40"/></g>
<path d="M92 38 L118 32 L160 27 L160 40 L122 48 L94 50 Z" fill="#e4593c"/><path d="M100 52 L160 44 L160 50 L102 58 Z" fill="#e66a4e"/>
<path d="M108 30 L140 24 L142 31 L110 37 Z" fill="#efeae6"/>
<path d="M60 114 L160 105 L160 113 L62 123 Z" fill="#e04c2b"/>
<path d="M62 131 L150 121 L150 125 L62 136 Z" fill="#e3573a"/>
<!-- small AGV -->
<path d="M72 136 L124 134 L124 152 L72 152 Z" fill="#dc452a"/>
<path d="M68 150 L112 150 L114 166 L70 166 Z" fill="#2c4f9c"/>
<rect x="74" y="146" width="8" height="6" fill="#f0b21f"/><rect x="100" y="148" width="8" height="5" fill="#f0b21f"/>
<circle cx="92" cy="164" r="5" fill="#1e1e22"/><circle cx="108" cy="165" r="4.500" fill="#1e1e22"/>
<!-- big AGV -->
<path d="M128 119 L160 114 L242 132 L242 158 L128 152 Z" fill="#ea4f1e"/>
<path d="M160 114 L242 132 L242 136 L160 118 Z" fill="#f26d3a"/>
<path d="M176 130 L236 142 M198 142 L236 149" stroke="#fde6da" stroke-width="3"/>
<rect x="226" y="138" width="6" height="12" fill="#fde6da"/>
<path d="M127 150 L248 156 L250 180 L128 178 Z" fill="#27355f"/>
<path d="M127 150 L158 152 L158 182 L128 180 Z" fill="#2d55a8"/>
<rect x="192" y="160" width="40" height="16" fill="#c6c9cf"/>
<rect x="130" y="148" width="12" height="9" fill="#f0b21f"/><rect x="148" y="150" width="9" height="7" fill="#f0b21f"/><rect x="240" y="158" width="7" height="9" fill="#f0b21f"/>
<circle cx="177" cy="172" r="10" fill="#1e1e22"/><circle cx="177" cy="172" r="4.200" fill="#7a7a7e"/>
<circle cx="239" cy="170" r="9" fill="#1e1e22"/><circle cx="239" cy="170" r="3.800" fill="#7a7a7e"/>
<ellipse cx="190" cy="184" rx="64" ry="4" fill="#b9b9b4" opacity="0.7"/>
<!-- tree -->
<g fill="#5b6d52" opacity="0.9"><path d="M298 0 L317.7 0 L317.700 66 Q312 62 313 50 Q304 44 308 30 Q300 22 304 10 Z"/></g>
<rect x="309" y="162" width="7" height="36" fill="#caa63c"/>
</svg>
<div class="t cap" style="left:178px;top:3386px">交通超级工程举世瞩目<span class="pl">（</span>港珠澳大桥<span class="pr">）</span></div>
<div class="t cap" style="left:164px;top:3672px">交通装备技术取得重大突破<span class="pl">（</span>中国高铁<span class="pr">）</span></div>
<div class="t cap" style="left:121px;top:3964px">智慧交通发展步伐加快<span class="pl" style="margin:0 6px 0 4px">（</span>上海洋山港自动化码头<span class="pr" style="margin-left:5px">）</span></div>


</body>
</html>
